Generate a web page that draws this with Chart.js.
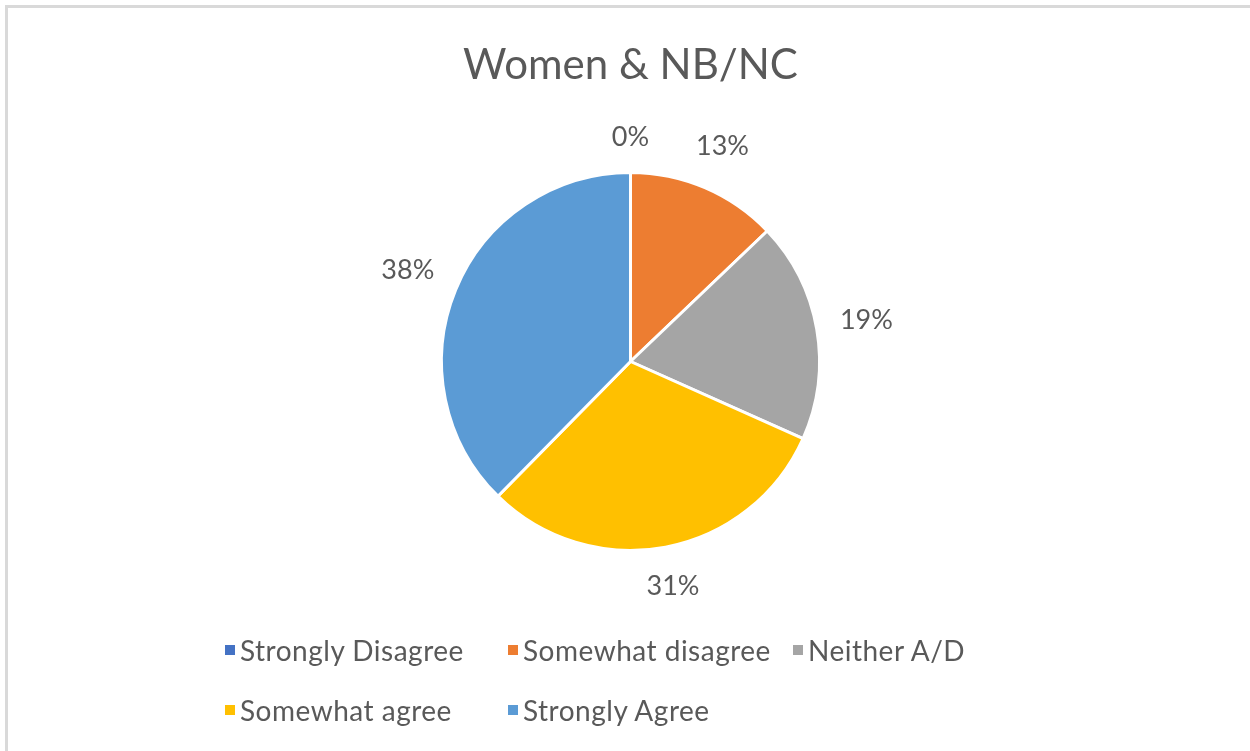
<!DOCTYPE html>
<html>
<head>
<meta charset="utf-8">
<title>Women &amp; NB/NC</title>
<script src="https://cdn.jsdelivr.net/npm/chart.js@4/dist/chart.umd.min.js"></script>
<style>
  body { margin: 0; background: #fff; }
  #wrap { position: relative; width: 1250px; height: 751px; overflow: hidden; }
  #frame {
    position: absolute; left: 5px; top: 5px; width: 1400px; height: 900px;
    border-top: 3px solid #d9d9d9; border-left: 3px solid #d9d9d9;
  }
  #pie { position: absolute; left: 0; top: 0; }
  #legend {
    position: absolute; left: 225px; top: 620px;
    display: grid; grid-template-columns: 283px 285px 220px; grid-auto-rows: 60px;
    font-family: Lato, sans-serif; font-size: 28px; letter-spacing: 0.5px; color: #595959;
  }
  #legend div { display: flex; align-items: center; white-space: nowrap; }
  #legend span.box { width: 10px; height: 10px; margin-right: 5px; flex: none; }
</style>
</head>
<body>
<div id="wrap">
  <div id="frame"></div>
  <canvas id="pie" width="1250" height="751"></canvas>
  <div id="legend"></div>
</div>
<script>
const answers = ["Strongly Disagree", "Somewhat disagree", "Neither A/D", "Somewhat agree", "Strongly Agree"];
const shares = [0, 13, 19, 31, 38];
const colors = ["#4472C4", "#ED7D31", "#A5A5A5", "#FFC000", "#5B9BD5"];

// percent labels sit just outside the rim, pushed out by half the text box
const outsideLabels = {
  id: "outsideLabels",
  afterDatasetsDraw(chart) {
    const ctx = chart.ctx;
    const meta = chart.getDatasetMeta(0);
    ctx.save();
    ctx.font = "27px Lato";
    ctx.fillStyle = "#595959";
    ctx.textAlign = "center";
    ctx.textBaseline = "middle";
    meta.data.forEach((arc, i) => {
      const p = arc.getProps(["x", "y", "startAngle", "endAngle", "outerRadius"], true);
      const mid = (p.startAngle + p.endAngle) / 2;
      const ux = Math.cos(mid), uy = Math.sin(mid);
      const text = shares[i] + "%";
      const w = ctx.measureText(text).width;
      const d = p.outerRadius + 22 + Math.abs(ux) * w / 2 + Math.abs(uy) * 13.5;
      ctx.fillText(text, p.x + ux * d, p.y + uy * d);
    });
    ctx.restore();
  }
};

new Chart(document.getElementById("pie"), {
  type: "pie",
  data: {
    labels: answers,
    datasets: [{
      data: shares,
      backgroundColor: colors,
      borderColor: "#ffffff",
      borderWidth: 3
    }]
  },
  options: {
    responsive: false,
    animation: false,
    layout: { padding: { left: 11, right: 0, top: 0, bottom: 199 } },
    plugins: {
      legend: { display: false },
      tooltip: { enabled: false },
      title: {
        display: true,
        text: "Women & NB/NC",
        color: "#595959",
        font: { family: "Lato", size: 42, weight: "normal" },
        padding: { top: 40, bottom: 80.6 }
      }
    }
  },
  plugins: [outsideLabels]
});

// legend laid out in three fixed columns, wrapping onto a second row
const legend = document.getElementById("legend");
answers.forEach((name, i) => {
  const item = document.createElement("div");
  const box = document.createElement("span");
  box.className = "box";
  box.style.background = colors[i];
  item.appendChild(box);
  item.appendChild(document.createTextNode(name));
  legend.appendChild(item);
});
</script>
</body>
</html>
